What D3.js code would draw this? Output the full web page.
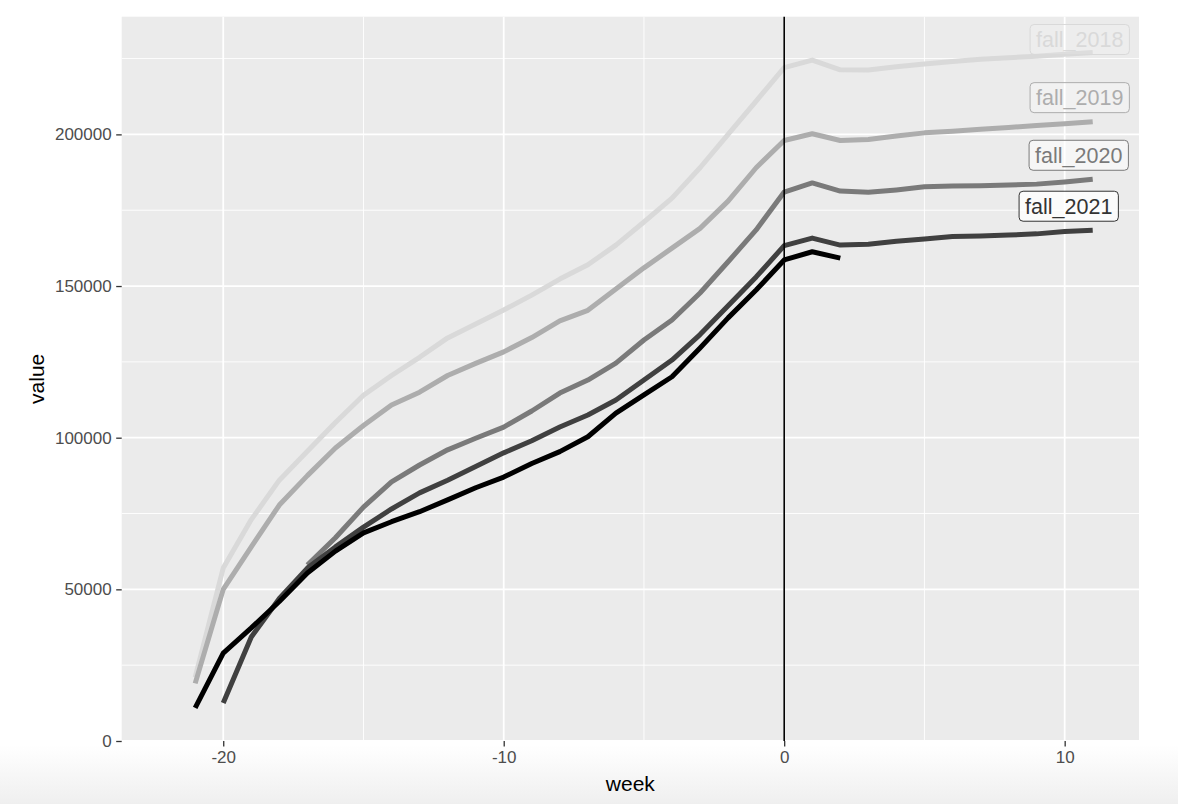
<!DOCTYPE html>
<html><head><meta charset="utf-8">
<script src="https://cdn.jsdelivr.net/npm/d3@7"></script>
<style>body{margin:0;background:#fff;} svg{display:block;font-family:"Liberation Sans",Arial,sans-serif;}</style>
</head><body>
<svg id="chart" width="1178" height="804"></svg>
<script>
// ---- data ----
const weeks = d3.range(-21, 12); // -21 .. 11
const fall_2018 = [21000,57000,73000,86000,95500,105000,114000,120500,126500,132900,137500,142100,147000,152300,157000,163500,171100,179000,189000,200000,211000,222000,224500,221300,221200,222300,223200,224000,224800,225300,225800,226400,227000];
const fall_2019 = [19000,50000,64000,77800,87500,96600,104000,110800,115000,120500,124500,128300,133000,138500,142000,149000,156000,162500,169000,178000,189000,198000,200200,198000,198300,199500,200500,201000,201700,202300,202900,203500,204200];
const fall_2020 = [null,null,null,null,58000,67000,77100,85400,91000,96000,99800,103500,108800,114700,119000,124600,132200,138800,147700,158000,168500,181000,184000,181300,180900,181700,182700,183000,183100,183300,183600,184300,185200];
const fall_2021 = [null,12500,34300,47000,57000,64000,70500,76500,81800,86000,90500,95000,99000,103500,107500,112400,119000,125600,134000,143500,153000,163300,165800,163500,163800,164800,165500,166300,166500,166800,167200,168000,168400];
const fall_2022 = [10900,29000,37300,46000,55400,62600,68600,72300,75600,79500,83500,87000,91500,95400,100300,108100,114100,120100,129600,139500,148700,158600,161300,159200,null,null,null,null,null,null,null,null,null];
const seriesNames = ["fall_2018","fall_2019","fall_2020","fall_2021","fall_2022"];
const seriesValues = [fall_2018, fall_2019, fall_2020, fall_2021, fall_2022];
const seriesColors = ["#d9d9d9","#adadad","#7a7a7a","#404040","#000000"];
const labelled = ["fall_2018","fall_2019","fall_2020","fall_2021"];
const xTicks = [-20,-10,0,10];
const xMinor = [-15,-5,5];
const yTicks = [0,50000,100000,150000,200000];
const yMinor = [25000,75000,125000,175000,225000];
const vlineAt = 0;

// ---- layout ----
const svg = d3.select("#chart");
const P = {l:121.7, r:1139, t:16.7, b:741};
const x = d3.scaleLinear().domain([-23.62, 12.65]).range([P.l, P.r]);
const y = d3.scaleLinear().domain([0, 238800]).range([P.b, P.t]);

// bottom fade (screenshot shading)
const defs = svg.append("defs");
const g0 = defs.append("linearGradient").attr("id","fade").attr("x1",0).attr("x2",0).attr("y1",0).attr("y2",1);
g0.append("stop").attr("offset","0%").attr("stop-color","#ffffff");
g0.append("stop").attr("offset","100%").attr("stop-color","#efefef");
svg.append("rect").attr("x",0).attr("y",745).attr("width",1178).attr("height",59).attr("fill","url(#fade)");

svg.append("rect").attr("x",P.l).attr("y",P.t).attr("width",P.r-P.l).attr("height",P.b-P.t).attr("fill","#ebebeb");

const grid = svg.append("g");
grid.selectAll(".ym").data(yMinor).join("line").attr("x1",P.l).attr("x2",P.r)
  .attr("y1",d=>y(d)).attr("y2",d=>y(d)).attr("stroke","#fff").attr("stroke-width",0.9);
grid.selectAll(".xm").data(xMinor).join("line").attr("y1",P.t).attr("y2",P.b)
  .attr("x1",d=>x(d)).attr("x2",d=>x(d)).attr("stroke","#fff").attr("stroke-width",0.9);
grid.selectAll(".yM").data(yTicks).join("line").attr("x1",P.l).attr("x2",P.r)
  .attr("y1",d=>y(d)).attr("y2",d=>y(d)).attr("stroke","#fff").attr("stroke-width",1.8);
grid.selectAll(".xM").data(xTicks).join("line").attr("y1",P.t).attr("y2",P.b)
  .attr("x1",d=>x(d)).attr("x2",d=>x(d)).attr("stroke","#fff").attr("stroke-width",1.8);

// axes
const fmt = d => String(d);
const xAxis = svg.append("g").attr("transform",`translate(0,${P.b})`)
  .call(d3.axisBottom(x).tickValues(xTicks).tickSize(5.5).tickPadding(4).tickFormat(fmt));
const yAxis = svg.append("g").attr("transform",`translate(${P.l},0)`)
  .call(d3.axisLeft(y).tickValues(yTicks).tickSize(5.5).tickPadding(4.5).tickFormat(fmt));
[xAxis,yAxis].forEach(a=>{
  a.select(".domain").remove();
  a.selectAll(".tick line").attr("stroke","#333").attr("stroke-width",1.3);
  a.selectAll(".tick text").attr("fill","#4d4d4d").style("font-size","17px");
});

svg.append("text").attr("x",(P.l+P.r)/2).attr("y",791).attr("text-anchor","middle")
  .style("font-size","21px").attr("fill","#000").text("week");
svg.append("text").attr("transform",`translate(37,${(P.t+P.b)/2}) rotate(-90)`).attr("text-anchor","middle")
  .attr("dy","0.35em").style("font-size","21px").attr("fill","#000").text("value");

// lines
const line = d3.line().defined(d=>d.v!=null).x(d=>x(d.w)).y(d=>y(d.v));
const series = seriesNames.map((n,i)=>({name:n,color:seriesColors[i],pts:weeks.map((w,j)=>({w,v:seriesValues[i][j]}))}));
svg.append("g").selectAll("path").data(series).join("path")
  .attr("d",d=>line(d.pts)).attr("fill","none").attr("stroke",d=>d.color)
  .attr("stroke-width",5).attr("stroke-linejoin","round");

// vline
svg.append("line").attr("x1",x(vlineAt)).attr("x2",x(vlineAt)).attr("y1",P.t).attr("y2",P.b)
  .attr("stroke","#000").attr("stroke-width",1.6);

// labels (repelled positions relative to last point)
const labelShift = {fall_2018:[-13,-13],fall_2019:[-13,-24],fall_2020:[-14,-24],fall_2021:[-24,-24]};
const alphas = {fall_2018:0.12,fall_2019:0.3,fall_2020:0.55,fall_2021:0.8};
const lg = svg.append("g");
series.filter(s=>labelled.includes(s.name)).forEach(s=>{
  const last = s.pts[s.pts.length-1];
  const cx = x(last.w)+labelShift[s.name][0], cy = y(last.v)+labelShift[s.name][1];
  const g = lg.append("g");
  const t = g.append("text").attr("x",cx).attr("y",cy).attr("text-anchor","middle").attr("dy","0.36em")
    .style("font-size","21.5px").attr("fill",s.color==="#404040"?"#333":s.color).text(s.name);
  const bb = t.node().getBBox();
  g.insert("rect","text").attr("x",bb.x-6).attr("y",cy-15).attr("width",bb.width+12).attr("height",30)
    .attr("rx",4).attr("fill","#fff").attr("fill-opacity",alphas[s.name])
    .attr("stroke",s.color==="#404040"?"#333":s.color).attr("stroke-width",1);
});
</script>
</body></html>
